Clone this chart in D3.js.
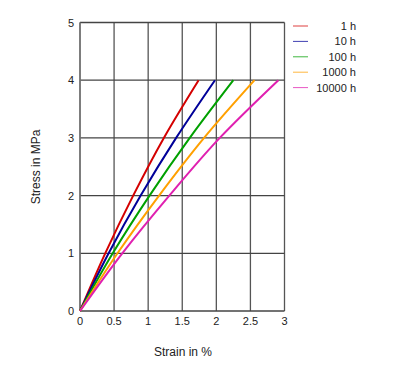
<!DOCTYPE html>
<html><head><meta charset="utf-8">
<script src="https://cdn.jsdelivr.net/npm/d3@7"></script>
<style>body{margin:0;background:#fff;} text{font-family:Arial,"Liberation Sans",sans-serif;}</style>
</head><body><svg id="c" width="407" height="391"></svg>
<script>
const seriesNames = ["1 h","10 h","100 h","1000 h","10000 h"];
const seriesColors = ["#d40000","#000099","#00a000","#ffa000","#e020b0"];
const stressLevels = [0,1,2,3,4];
const strain1h     = [0,0.37,0.78,1.23,1.74];
const strain10h    = [0,0.42,0.89,1.41,1.98];
const strain100h   = [0,0.48,1.02,1.61,2.25];
const strain1000h  = [0,0.55,1.16,1.82,2.56];
const strain10000h = [0,0.62,1.31,2.05,2.91];
const xTicks = [0,0.5,1,1.5,2,2.5,3];
const yTicks = [0,1,2,3,4,5];
const allStrains = [strain1h,strain10h,strain100h,strain1000h,strain10000h];

const svg = d3.select("#c");
const x = d3.scaleLinear().domain([0,3]).range([80,284.5]);
const y = d3.scaleLinear().domain([0,5]).range([311,22.5]);

const g = svg.append("g");
g.selectAll(".vg").data(xTicks).enter().append("line")
  .attr("x1",d=>x(d)).attr("x2",d=>x(d)).attr("y1",y(0)).attr("y2",y(5))
  .attr("stroke","#555").attr("stroke-width",1.3);
g.selectAll(".hg").data(yTicks).enter().append("line")
  .attr("x1",x(0)).attr("x2",x(3)).attr("y1",d=>y(d)).attr("y2",d=>y(d))
  .attr("stroke","#444").attr("stroke-width",1.3);
g.append("line").attr("x1",x(0)).attr("x2",x(0)).attr("y1",y(0)).attr("y2",y(5))
  .attr("stroke","#777").attr("stroke-width",1.5);

g.selectAll(".xt").data(xTicks).enter().append("text")
  .attr("x",d=>x(d)).attr("y",325).attr("text-anchor","middle")
  .attr("font-size",11).attr("fill","#222").text(d=>d);
g.selectAll(".yt").data(yTicks).enter().append("text")
  .attr("x",74).attr("y",d=>y(d)+4).attr("text-anchor","end")
  .attr("font-size",11).attr("fill","#222").text(d=>d);

svg.append("text").attr("x",183).attr("y",356).attr("text-anchor","middle")
  .attr("font-size",12).attr("fill","#222").text("Strain in %");
svg.append("text").attr("transform","translate(40,167) rotate(-90)").attr("text-anchor","middle")
  .attr("font-size",12).attr("fill","#222").text("Stress in MPa");

const line = d3.line().x(d=>x(d[0])).y(d=>y(d[1])).curve(d3.curveMonotoneY);
allStrains.forEach((s,i)=>{
  const pts = s.map((v,j)=>[v,stressLevels[j]]);
  svg.append("path").attr("d",line(pts)).attr("fill","none")
    .attr("stroke",seriesColors[i]).attr("stroke-width",2);
});

const lg = svg.append("g");
seriesNames.forEach((n,i)=>{
  const ly = 26 + i*15.4;
  lg.append("line").attr("x1",293).attr("x2",308).attr("y1",ly).attr("y2",ly)
    .attr("stroke",seriesColors[i]).attr("stroke-width",1).attr("opacity",0.75);
  lg.append("text").attr("x",356).attr("y",ly+4).attr("text-anchor","end")
    .attr("font-size",11).attr("fill","#222").text(n);
});
</script></body></html>
